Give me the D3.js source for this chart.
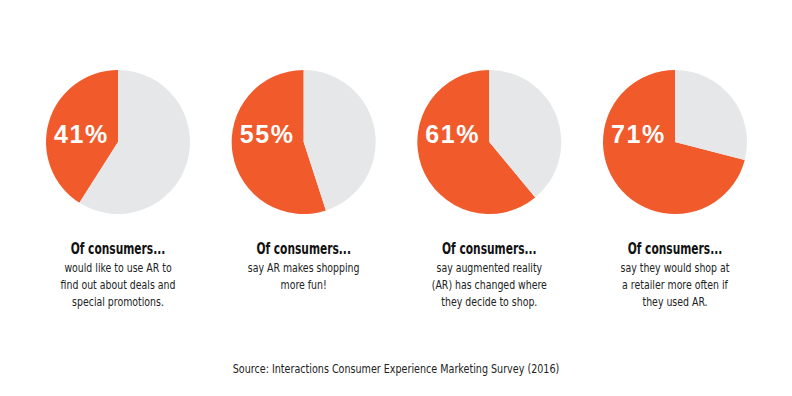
<!DOCTYPE html>
<html>
<head>
<meta charset="utf-8">
<script src="https://cdn.jsdelivr.net/npm/d3@7.9.0/dist/d3.min.js"></script>
<style>
  body { margin: 0; background: #fff; }
  .narrow { font-family: "Liberation Sans Narrow", "DejaVu Sans Condensed", "Arial Narrow", sans-serif; font-stretch: condensed; }
</style>
</head>
<body>
<svg id="chart"></svg>
<script>
const percents = [41, 55, 61, 71];
const headings = ["Of consumers...", "Of consumers...", "Of consumers...", "Of consumers..."];
const captions = [
  ["would like to use AR to", "find out about deals and", "special promotions."],
  ["say AR makes shopping", "more fun!"],
  ["say augmented reality", "(AR) has changed where", "they decide to shop."],
  ["say they would shop at", "a retailer more often if", "they used AR."]
];
const source = "Source: Interactions Consumer Experience Marketing Survey (2016)";

const width = 792, height = 396;
const svg = d3.select("#chart").attr("width", width).attr("height", height);

// pie centres
const x = d3.scalePoint().domain(d3.range(percents.length)).range([118, 675]);
const cy = 142, radius = 72;

const pie = d3.pie().sort(null).startAngle(0).endAngle(-2 * Math.PI);
const arc = d3.arc().innerRadius(0).outerRadius(radius);
const colors = ["#F15A2B", "#E6E7E8"];

// squeeze text horizontally to mimic the condensed face
function narrowText(sel, tx, ty, sx) {
  return sel.append("text")
    .attr("class", "narrow")
    .attr("transform", `translate(${tx},${ty}) scale(${sx},1)`)
    .attr("text-anchor", "middle");
}

percents.forEach((p, i) => {
  const g = svg.append("g").attr("transform", `translate(${x(i)},${cy})`);

  g.selectAll("path")
    .data(pie([p, 100 - p]))
    .enter()
    .append("path")
    .attr("d", arc)
    .attr("fill", (d, j) => colors[j]);

  g.append("text")
    .attr("x", -64)
    .attr("y", 1)
    .attr("fill", "#fff")
    .attr("font-family", "Liberation Sans, Arial, sans-serif")
    .attr("font-weight", "bold")
    .attr("font-size", 25)
    .attr("letter-spacing", 1.6)
    .text(p + "%");

  narrowText(g, 0, 112, 0.79)
    .attr("font-weight", "bold")
    .attr("font-size", 15)
    .attr("fill", "#111")
    .text(headings[i]);

  captions[i].forEach((line, k) => {
    narrowText(g, 0, 130 + k * 17, 0.87)
      .attr("font-size", 12)
      .attr("fill", "#222")
      .text(line);
  });
});

narrowText(svg, 396, 373, 0.82)
  .attr("font-size", 13)
  .attr("fill", "#222")
  .text(source);
</script>
</body>
</html>
